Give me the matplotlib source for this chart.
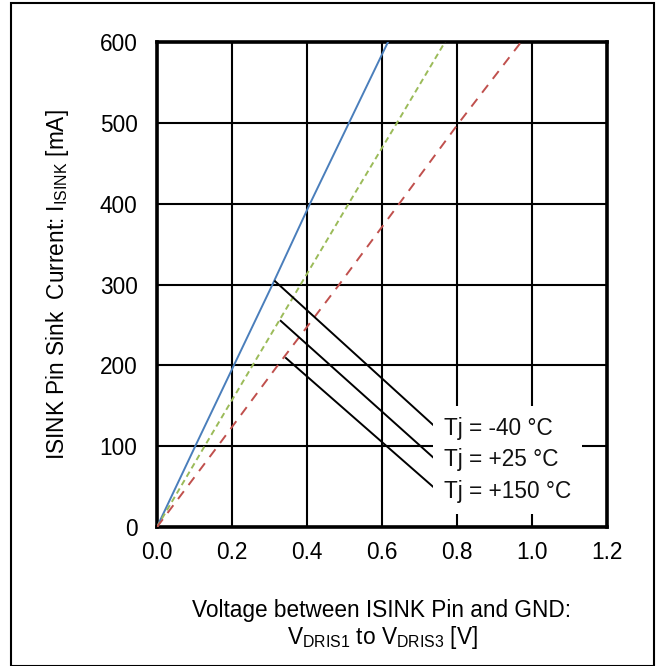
import matplotlib
matplotlib.use("Agg")
from matplotlib import pyplot as plt
from matplotlib.patches import Rectangle

plt.rcParams['font.family'] = ['Liberation Sans', 'DejaVu Sans']
plt.rcParams['mathtext.default'] = 'regular'

# sink current [mA] vs voltage [V]
i_ma = [0, 100, 200, 300, 400, 500, 600]
v_m40 = [0, 0.102, 0.205, 0.308, 0.408, 0.512, 0.616]
v_p25 = [0, 0.127, 0.255, 0.383, 0.511, 0.640, 0.768]
v_p150 = [0, 0.162, 0.322, 0.486, 0.646, 0.805, 0.971]

labels = ['Tj = -40 °C', 'Tj = +25 °C', 'Tj = +150 °C']
# leader lines: start on curve -> end near label
lead_v0 = [0.315, 0.330, 0.344]
lead_i0 = [304, 255, 209]
lead_v1 = [0.737, 0.739, 0.743]
lead_i1 = [126, 85, 47]

FS = 16.3

fig = plt.figure(figsize=(6.58, 6.66), dpi=100)
ax = fig.add_axes([157/658, 1 - 527/666, 450/658, 485/666])

ax.plot(v_m40, i_ma, color='#4A7EBB', lw=1.4, zorder=3)
ax.plot(v_p25, i_ma, color='#9BBB59', lw=1.4, ls=(0, (3, 2)), zorder=3)
ax.plot(v_p150, i_ma, color='#C0504D', lw=1.4, ls=(0, (5, 4)), zorder=3)

for k in range(3):
    ax.plot([lead_v0[k], lead_v1[k]], [lead_i0[k], lead_i1[k]], color='black', lw=1.4, zorder=4)

ax.text(0.765, 83, '\n'.join(labels), fontsize=FS, va='center', ha='left',
        linespacing=1.48, zorder=5, color='#111111',
        bbox=dict(facecolor='white', edgecolor='none', pad=8))

ax.set_xlim(0, 1.2)
ax.set_ylim(0, 600)
ax.set_xticks([0, 0.2, 0.4, 0.6, 0.8, 1.0, 1.2])
ax.set_yticks([0, 100, 200, 300, 400, 500, 600])
ax.set_xticklabels(['0.0', '0.2', '0.4', '0.6', '0.8', '1.0', '1.2'])
ax.tick_params(length=0, labelsize=FS, pad=10)
ax.tick_params(axis='y', pad=14)
ax.grid(True, color='black', lw=1.5)
ax.set_axisbelow(True)
for s in ax.spines.values():
    s.set_linewidth(2.6)

ax.set_ylabel('ISINK Pin Sink  Current: I$_{ISINK}$ [mA]', fontsize=FS, labelpad=21)
ax.set_xlabel('Voltage between ISINK Pin and GND:\nV$_{DRIS1}$ to V$_{DRIS3}$ [V]',
              fontsize=FS, labelpad=25, linespacing=1.1)

fig.patches.append(Rectangle((11/658, 0.0), 643/658, 1 - 3/666, transform=fig.transFigure,
                             fill=False, edgecolor='black', lw=1.5))

fig.savefig('out.png', dpi=100)
